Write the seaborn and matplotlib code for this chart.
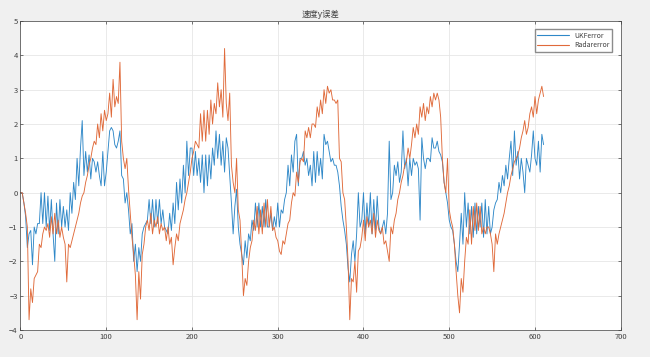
import numpy as np
import pandas as pd
import matplotlib
matplotlib.use('Agg')
import matplotlib.pyplot as plt
from matplotlib.lines import Line2D
import seaborn as sns

# sample index (every 2nd step)
step = np.arange(0, 612, 2)

radar_err = [
    0.0, 0.0, -0.3, -0.6, -1.0, -3.7, -2.8, -3.2, -2.5, -2.4,
    -2.3, -1.5, -1.6, -1.2, -1.0, -1.1, -0.9, -1.3, -0.7, -1.2,
    -0.6, -1.2, -0.8, -1.3, -1.0, -1.3, -1.5, -2.6, -1.5, -1.6,
    -1.4, -1.2, -1.0, -0.8, -0.6, -0.3, -0.1, 0.0, 0.3, 0.5,
    0.8, 1.0, 1.3, 1.5, 1.4, 2.0, 1.6, 2.3, 1.8, 2.4,
    2.1, 2.3, 2.9, 2.2, 3.3, 2.5, 2.8, 2.6, 3.8, 1.5,
    1.0, 0.7, 1.0, 0.1, -0.6, -1.3, -1.8, -2.4, -3.7, -2.3,
    -3.1, -1.8, -1.5, -1.0, -0.8, -1.1, -0.6, -1.2, -0.8, -1.0,
    -0.7, -1.2, -0.9, -1.1, -1.0, -1.4, -1.0, -1.5, -1.3, -2.1,
    -1.6, -1.2, -1.4, -0.9, -0.7, -0.5, -0.2, 0.0, 0.3, 0.6,
    1.0, 1.2, 1.5, 1.4, 1.3, 2.3, 1.5, 2.4, 1.5, 2.4,
    1.7, 2.7, 2.0, 2.6, 2.3, 3.2, 2.5, 3.0, 2.2, 4.2,
    2.6, 2.1, 2.9, 0.8, 0.3, 0.0, 1.0, -0.5, -0.8, -1.8,
    -3.0, -2.5, -2.7, -2.0, -1.6, -1.4, -0.8, -1.1, -0.4, -1.2,
    -0.5, -1.2, -0.3, -1.0, -0.2, -1.0, -0.4, -1.1, -1.0, -1.3,
    -1.4, -1.7, -1.8, -1.4, -1.5, -1.2, -0.9, -0.8, -0.3, 0.0,
    -0.1, 0.6, 0.3, 0.9, 1.0, 0.9, 1.8, 1.6, 1.9, 1.6,
    2.0, 2.0, 1.9, 2.5, 2.2, 2.7, 2.3, 3.0, 2.6, 3.1,
    2.9, 3.0, 2.7, 2.7, 2.6, 2.7, 1.0, 0.9, 0.0, -0.2,
    -1.0, -2.0, -3.7, -2.5, -2.6, -2.0, -2.9, -1.7, -1.6, -1.3,
    -0.8, -1.4, -0.7, -1.0, -0.8, -1.2, -0.6, -1.3, -0.8, -1.1,
    -1.2, -1.0, -1.5, -1.4, -1.7, -2.0, -1.0, -1.2, -0.8, -0.6,
    -0.2, 0.0, 0.3, 0.5, 0.8, 0.9, 1.3, 1.0, 1.4, 1.9,
    1.6, 2.0, 1.7, 2.5, 2.2, 2.6, 2.1, 2.5, 2.3, 2.8,
    2.5, 2.9, 2.7, 2.9, 2.7, 2.2, 1.0, 0.3, 0.0, 1.0,
    -0.5, -0.8, -1.0, -1.5, -2.3, -3.0, -3.5, -2.5, -2.9, -2.0,
    -1.3, -1.5, -0.5, -1.5, -0.4, -1.1, -0.3, -1.1, -0.4, -1.2,
    -1.0, -1.2, -1.0, -1.0, -1.2, -1.5, -2.3, -1.2, -1.5, -1.2,
    -1.0, -0.8, -0.6, -0.3, 0.0, 0.2, 0.5, 0.7, 0.9, 1.0,
    1.1, 1.3, 1.6, 1.8, 2.1, 1.7, 1.9, 2.3, 2.5, 2.2,
    2.8, 2.3, 2.7, 2.9, 3.1, 2.8,
]

ukf_err = [
    0.0, 0.0, -0.3, -0.7, -1.6, -1.2, -1.1, -2.1, -1.0, -1.2,
    -0.9, -0.9, 0.0, -0.9, 0.0, -1.0, -0.1, -1.1, -0.2, -1.2,
    -2.0, -0.3, -1.2, -0.2, -1.0, -0.4, -1.0, -0.5, -1.1, 0.0,
    -0.6, 0.3, -0.2, 1.0, 0.2, 1.3, 2.1, 0.5, 1.2, 0.6,
    1.1, 0.4, 1.0, 0.9, 0.6, 0.9, 0.5, 0.2, 1.2, 0.2,
    0.6, 1.2, 1.8, 1.9, 1.8, 1.4, 1.3, 1.5, 1.8, 0.5,
    0.4, -0.3, 0.0, -0.5, -1.2, -0.9, -2.0, -1.5, -2.3, -1.6,
    -2.0, -1.2, -1.0, -0.9, -0.8, -0.2, -0.9, -0.2, -1.0, -0.2,
    -0.9, -0.2, -0.9, -0.5, -1.0, -1.1, -1.2, -0.6, -1.1, -0.3,
    -0.9, 0.3, -0.5, 0.4, -0.3, 0.8, 0.0, 1.5, 0.5, 1.3,
    1.3, 0.5, 1.2, 0.5, 1.0, 0.3, 1.1, 0.0, 1.1, 0.2,
    1.1, 0.4, 1.3, 0.8, 1.8, 1.0, 1.7, 0.8, 1.5, 0.6,
    1.6, 1.3, 0.5, -0.3, -1.2, -0.4, 0.1, -1.0, -1.5, -1.8,
    -2.1, -1.4, -1.9, -1.2, -1.4, -0.8, -1.1, -0.3, -1.0, -0.3,
    -1.0, -0.4, -1.0, -0.2, -1.0, -1.0, -0.6, -1.1, -0.7, -1.0,
    -0.3, -1.0, -0.5, -0.6, -0.2, 0.0, 0.8, 0.2, 1.1, 0.6,
    1.5, 1.7, 0.2, 1.0, 1.0, 1.2, 0.8, 1.0, 0.5, 0.8,
    0.2, 1.2, 0.3, 1.2, 0.5, 1.0, 0.4, 1.7, 1.4, 1.5,
    1.2, 0.9, 1.0, 0.8, 0.8, 0.6, 0.2, -0.4, -0.8, -1.1,
    -1.5, -2.2, -2.6, -1.8, -1.4, -2.0, -1.2, 0.0, -1.0, -0.8,
    0.0, -1.2, -0.3, -1.0, 0.0, -1.2, -0.2, -1.1, -0.1, -1.0,
    -1.2, -1.0, -0.8, -1.2, -0.6, 1.5, -0.2, 0.0, 0.8, 0.5,
    0.9, 0.3, 0.6, 1.8, 0.7, 1.0, 0.2, 1.0, 0.5, 1.0,
    0.8, 0.9, 0.7, -0.8, 1.6, 1.0, 0.7, 1.0, 1.0, 0.9,
    1.6, 1.3, 1.3, 1.5, 1.2, 1.1, 0.9, 0.3, 0.0, -0.3,
    -0.8, -1.0, -1.1, -1.5, -2.0, -2.3, -1.5, -0.6, -1.5, 0.0,
    -1.0, -0.3, -1.2, -0.4, -1.3, -0.3, -1.2, -0.4, -1.0, -0.3,
    -1.3, -0.2, -1.2, -0.4, -1.2, -1.0, -0.5, -0.3, -0.2, 0.3,
    0.0, 0.5, 0.2, 0.8, 0.4, 1.0, 1.5, 0.5, 1.8, 0.8,
    1.2, 0.4, 1.0, 0.6, 0.0, 1.0, 0.8, 0.6, 1.1, 1.8,
    1.0, 0.8, 1.5, 0.6, 1.7, 1.4,
]

series_names = ['UKFerror', 'Radarerror']
series_colors = ['#2F88C8', '#E06A3A']
title_text = '速度y误差'

sns.set_style('ticks')
plt.rcParams['font.family'] = ['Noto Sans CJK SC', 'DejaVu Sans']

fig = plt.figure(figsize=(6.5, 3.57), dpi=100, facecolor='#F0F0F0')
ax = fig.add_axes([0.0315, 0.0756, 0.9235, 0.8655])
ax.set_facecolor('white')

for name, vals, col in zip(series_names, [ukf_err, radar_err], series_colors):
    sns.lineplot(x=step, y=vals, ax=ax, color=col, linewidth=0.65, legend=False)

ax.set_xlim(0, 700)
ax.set_ylim(-4, 5)
ax.set_xticks(np.arange(0, 701, 100))
ax.set_yticks(np.arange(-4, 6, 1))
ax.grid(True, color='#E6E6E6', linewidth=0.6)
ax.set_axisbelow(True)
ax.tick_params(direction='in', labelsize=5.5, length=2.5, width=0.5,
               colors='#404040', top=True, right=True, pad=2)
for s in ax.spines.values():
    s.set_linewidth(0.5)
    s.set_color('#404040')

ax.set_title(title_text, fontsize=6, pad=3, color='#404040')
handles = [Line2D([], [], color=c, linewidth=0.8) for c in series_colors]
leg = ax.legend(handles, series_names, loc='upper right', fontsize=5, frameon=True,
                fancybox=False, edgecolor='#8C8C8C', framealpha=1, handlelength=4.5,
                borderpad=0.4, labelspacing=0.2, bbox_to_anchor=(0.992, 0.985))
for t in leg.get_texts():
    t.set_color('#404040')

fig.savefig('out.png', dpi=100, facecolor=fig.get_facecolor())
